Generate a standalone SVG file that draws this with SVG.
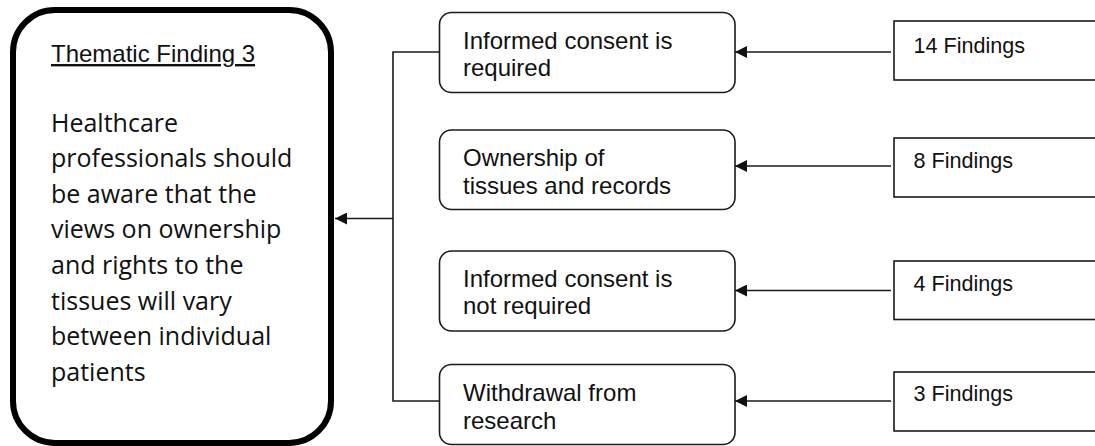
<svg xmlns="http://www.w3.org/2000/svg" width="1095" height="446" viewBox="0 0 1095 446">
  <style>
    .big { fill: #ffffff; stroke: #000000; stroke-width: 6; }
    .mid { fill: #ffffff; stroke: #1a1a1a; stroke-width: 1.6; }
    .src { fill: #ffffff; stroke: #1a1a1a; stroke-width: 1.6; }
    .conn { fill: none; stroke: #1a1a1a; stroke-width: 1.6; }
    .t-arial { font-family: "Liberation Sans", Arial, sans-serif; fill: #111111; }
    .t-body { font-family: "Open Sans", "Noto Sans", sans-serif; font-size: 25px; fill: #111111; }
    .t-mid { font-size: 24px; }
    .t-src { font-size: 21.6px; }
  </style>
  <defs>
    <marker id="arrow" markerUnits="userSpaceOnUse" markerWidth="12" markerHeight="12" viewBox="0 0 12 12" refX="12" refY="6" orient="auto">
      <path d="M0,0 L12,6 L0,12 z" fill="#111111"/>
    </marker>
  </defs>
  <rect width="1095" height="446" fill="#ffffff"/>

  <g id="theme">
    <rect class="big" x="13" y="10" width="318" height="433" rx="42" ry="42"/>
    <text class="t-arial" x="51" y="62" font-size="24" text-decoration="underline">Thematic Finding 3</text>
    <text class="t-body" x="51" y="131.5">Healthcare</text>
    <text class="t-body" x="51" y="167">professionals should</text>
    <text class="t-body" x="51" y="202.5">be aware that the</text>
    <text class="t-body" x="51" y="238">views on ownership</text>
    <text class="t-body" x="51" y="274">and rights to the</text>
    <text class="t-body" x="51" y="309.5">tissues will vary</text>
    <text class="t-body" x="51" y="345">between individual</text>
    <text class="t-body" x="51" y="380.5">patients</text>
  </g>

  <g id="sub1">
    <rect class="mid" x="439.5" y="12.5" width="295.5" height="80" rx="12" ry="12"/>
    <text class="t-arial t-mid" x="463" y="49">Informed consent is</text>
    <text class="t-arial t-mid" x="463" y="75.5">required</text>
  </g>
  <g id="sub2">
    <rect class="mid" x="439.5" y="130" width="295.5" height="79.5" rx="12" ry="12"/>
    <text class="t-arial t-mid" x="463" y="166">Ownership of</text>
    <text class="t-arial t-mid" x="463" y="193.5">tissues and records</text>
  </g>
  <g id="sub3">
    <rect class="mid" x="439.5" y="251" width="295.5" height="80" rx="12" ry="12"/>
    <text class="t-arial t-mid" x="463" y="287">Informed consent is</text>
    <text class="t-arial t-mid" x="463" y="314">not required</text>
  </g>
  <g id="sub4">
    <rect class="mid" x="439.5" y="364.5" width="295.5" height="80" rx="12" ry="12"/>
    <text class="t-arial t-mid" x="463" y="401">Withdrawal from</text>
    <text class="t-arial t-mid" x="463" y="428.5">research</text>
  </g>

  <g id="src1">
    <rect class="src" x="894" y="21" width="210" height="59"/>
    <text class="t-arial t-src" x="913.5" y="52.5">14 Findings</text>
  </g>
  <g id="src2">
    <rect class="src" x="894" y="138" width="210" height="59"/>
    <text class="t-arial t-src" x="913.5" y="168">8 Findings</text>
  </g>
  <g id="src3">
    <rect class="src" x="894" y="261" width="210" height="58.5"/>
    <text class="t-arial t-src" x="913.5" y="291">4 Findings</text>
  </g>
  <g id="src4">
    <rect class="src" x="894" y="372" width="210" height="59"/>
    <text class="t-arial t-src" x="913.5" y="401">3 Findings</text>
  </g>

  <g id="connectors">
    <path class="conn" d="M439.5,52 H393 V401 H439.5"/>
    <path class="conn" d="M393,218.5 H335" marker-end="url(#arrow)"/>
    <path class="conn" d="M891,52 H735" marker-end="url(#arrow)"/>
    <path class="conn" d="M891,166 H735" marker-end="url(#arrow)"/>
    <path class="conn" d="M891,290.5 H735" marker-end="url(#arrow)"/>
    <path class="conn" d="M891,401 H735" marker-end="url(#arrow)"/>
  </g>
</svg>
